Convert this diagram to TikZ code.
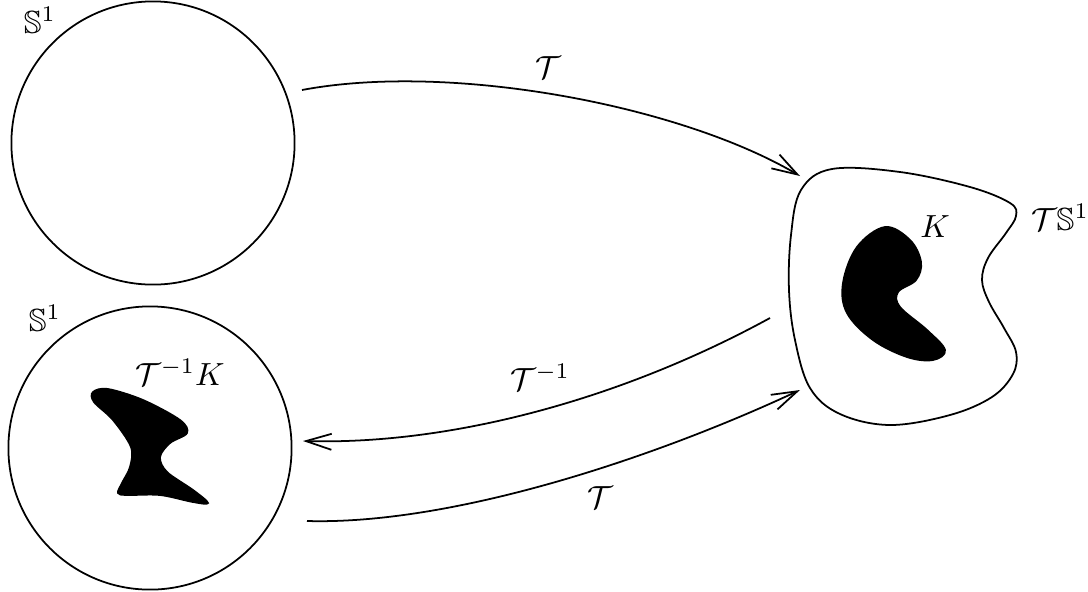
\documentclass[tikz,border=0pt]{standalone}
\usepackage{amsmath,amssymb}
\usetikzlibrary{arrows.meta}
\begin{document}
\begin{tikzpicture}[x=0.3125pt,y=-0.3125pt, line width=0.55pt,
  arr/.style={-{Straight Barb[length=8pt,width=5pt]}},
  ring/.style={circle,draw,minimum size=88.5pt,inner sep=0pt},
  blobfill/.style={fill=black,draw=black}]
\useasboundingbox (0,0) rectangle (1088,591);
\node[ring] (c1) at (153,143) {};
\node[ring] (c2) at (150,448) {};
% right set
\draw[line join=round] plot[smooth cycle,tension=0.6] coordinates {
 (832,169) (900,172) (970,187) (1010,203) (1016,216)
 (1006,233) (988,258) (982,280) (989,302) (1004,328) (1016,352)
 (1013,374) (992,397) (950,415) (890,425) (840,414) (810,388)
 (795,340) (789,290) (791,235) (801,190)};
% K
\draw[blobfill] plot[smooth cycle,tension=0.6] coordinates {
 (885,227) (910,240) (921,262) (916,280) (898,292) (900,307)
 (927,330) (945,350) (933,360) (907,357) (873,340) (847,313)
 (843,283) (857,247)};
% T^{-1}K
\draw[blobfill] plot[smooth cycle,tension=0.55] coordinates {
 (93,392) (108,389) (143,400) (180,420) (187,433) (170,443)
 (160,457) (167,472) (193,490) (208,503) (193,502) (160,495)
 (127,495) (118,493) (122,483) (130,467) (131,447) (113,420)
 (94,402)};
% labels
\node (s1) at (40,20) {$\mathbb{S}^1$};
\node (s2) at (45,318) {$\mathbb{S}^1$};
\node (tk) at (180,372) {$\mathcal{T}^{-1}K$};
\node (k) at (935,227) {$K$};
\node (ts) at (1060,217) {$\mathcal{T}\mathbb{S}^1$};
\node (t1) at (548,68) {$\mathcal{T}$};
\node (ti) at (540,377) {$\mathcal{T}^{-1}$};
\node (t2) at (600,498) {$\mathcal{T}$};
% arrows
\coordinate (a1s) at (302,90); \coordinate (a1e) at (800,176);
\coordinate (a2s) at (770,318); \coordinate (a2e) at (303,441);
\coordinate (a3s) at (307,521); \coordinate (a3e) at (800,390);
\draw[arr] (a1s) .. controls (450,62) and (680,105) .. (a1e);
\draw[arr] (a2s) .. controls (620,400) and (450,445) .. (a2e);
\draw[arr] (a3s) .. controls (450,525) and (650,460) .. (a3e);
\end{tikzpicture}
\end{document}
